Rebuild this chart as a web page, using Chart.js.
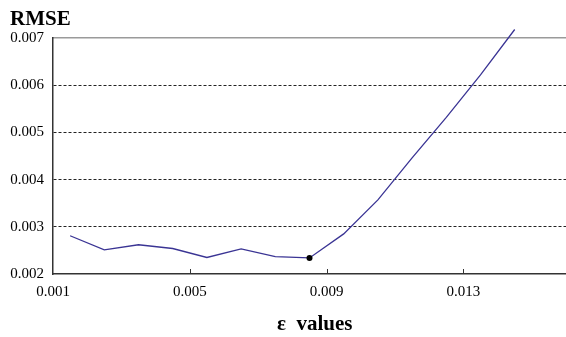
<!DOCTYPE html>
<html>
<head>
<meta charset="utf-8">
<script src="https://cdn.jsdelivr.net/npm/chart.js@4/dist/chart.umd.min.js"></script>
<style>
  html, body { margin: 0; padding: 0; background: #fff; }
  #wrap { width: 566px; height: 337px; position: relative; }
</style>
</head>
<body>
<div id="wrap"><canvas id="myChart"></canvas></div>
<script>
const epsValues = [0.0015, 0.0025, 0.0035, 0.0045, 0.0055, 0.0065, 0.0075, 0.0085, 0.0095, 0.0105, 0.0115, 0.0125, 0.0135, 0.0145];
const rmseValues = [0.00281, 0.00251, 0.00262, 0.00254, 0.00235, 0.00253, 0.00237, 0.00234, 0.00285, 0.00357, 0.00446, 0.00532, 0.00622, 0.00718];
const xTicks = [0.001, 0.005, 0.009, 0.013];
const yTicks = [0.002, 0.003, 0.004, 0.005, 0.006, 0.007];

const serif = "'Liberation Serif', 'DejaVu Serif', serif";

// index of the smallest error gets the black dot
let minIndex = 0;
for (let i = 1; i < rmseValues.length; i++) {
    if (rmseValues[i] < rmseValues[minIndex]) {
        minIndex = i;
    }
}

const points = epsValues.map((x, i) => ({x: x, y: rmseValues[i]}));

// small tick marks pointing up from the x axis
const innerTicks = {
    id: 'innerTicks',
    afterDraw(chart) {
        const ctx = chart.ctx;
        const xs = chart.scales.x;
        const bottom = chart.chartArea.bottom;
        ctx.save();
        ctx.strokeStyle = '#333';
        ctx.lineWidth = 1;
        xTicks.slice(1).forEach(v => {
            const px = Math.round(xs.getPixelForValue(v)) + 0.5;
            ctx.beginPath();
            ctx.moveTo(px, bottom);
            ctx.lineTo(px, bottom - 5);
            ctx.stroke();
        });
        ctx.restore();
    }
};

const ctx = document.getElementById('myChart').getContext('2d');
const myChart = new Chart(ctx, {
    type: 'line',
    data: {
        datasets: [{
            data: points,
            borderColor: '#3a3494',
            borderWidth: 1.3,
            tension: 0,
            clip: false, // last point sits a little above 0.007
            pointRadius: (c) => c.dataIndex === minIndex ? 3 : 0,
            pointBackgroundColor: '#000',
            pointBorderColor: '#000',
            pointBorderWidth: 0,
            fill: false
        }]
    },
    options: {
        responsive: true,
        maintainAspectRatio: false,
        animation: false,
        layout: {
            padding: {left: 10, right: 0, top: 0, bottom: 0}
        },
        plugins: {
            legend: {display: false},
            tooltip: {enabled: false},
            title: {
                display: true,
                text: 'RMSE',
                align: 'start',
                color: '#000',
                font: {family: serif, size: 21, weight: 'bold', lineHeight: 1},
                padding: {top: 9, bottom: 8}
            }
        },
        scales: {
            x: {
                type: 'linear',
                position: 'bottom',
                min: 0.001,
                max: 0.016,
                afterBuildTicks: (scale) => {
                    scale.ticks = xTicks.map(v => ({value: v}));
                },
                afterFit: (scale) => {
                    scale.height = 63;
                },
                ticks: {
                    color: '#000',
                    padding: 9,
                    maxRotation: 0,
                    autoSkip: false,
                    font: {family: serif, size: 15},
                    callback: (value) => value.toFixed(3)
                },
                grid: {display: false, drawTicks: false},
                border: {display: true, color: '#333', width: 1.5},
                title: {
                    display: true,
                    text: '  ε  values',
                    color: '#000',
                    font: {family: serif, size: 21, weight: 'bold', lineHeight: 1.2},
                    padding: {top: 0, bottom: 0}
                }
            },
            x2: {
                type: 'linear',
                position: 'top',
                min: 0.001,
                max: 0.016,
                afterFit: (scale) => {
                    scale.height = 0;
                },
                ticks: {display: false},
                grid: {display: false, drawTicks: false},
                border: {display: true, color: '#9a9a9a', width: 1.5}
            },
            y: {
                type: 'linear',
                min: 0.002,
                max: 0.007,
                afterBuildTicks: (scale) => {
                    scale.ticks = yTicks.map(v => ({value: v}));
                },
                afterFit: (scale) => {
                    scale.width = 43;
                },
                ticks: {
                    color: '#000',
                    padding: 9,
                    font: {family: serif, size: 15},
                    callback: (value) => value.toFixed(3)
                },
                grid: {
                    drawTicks: false,
                    lineWidth: 1,
                    color: (c) => (c.tick && (c.tick.value === 0.002 || c.tick.value === 0.007)) ? 'rgba(0,0,0,0)' : '#222'
                },
                border: {display: true, color: '#333', width: 1.5, dash: [3, 2]}
            }
        }
    },
    plugins: [innerTicks]
});
</script>
</body>
</html>
